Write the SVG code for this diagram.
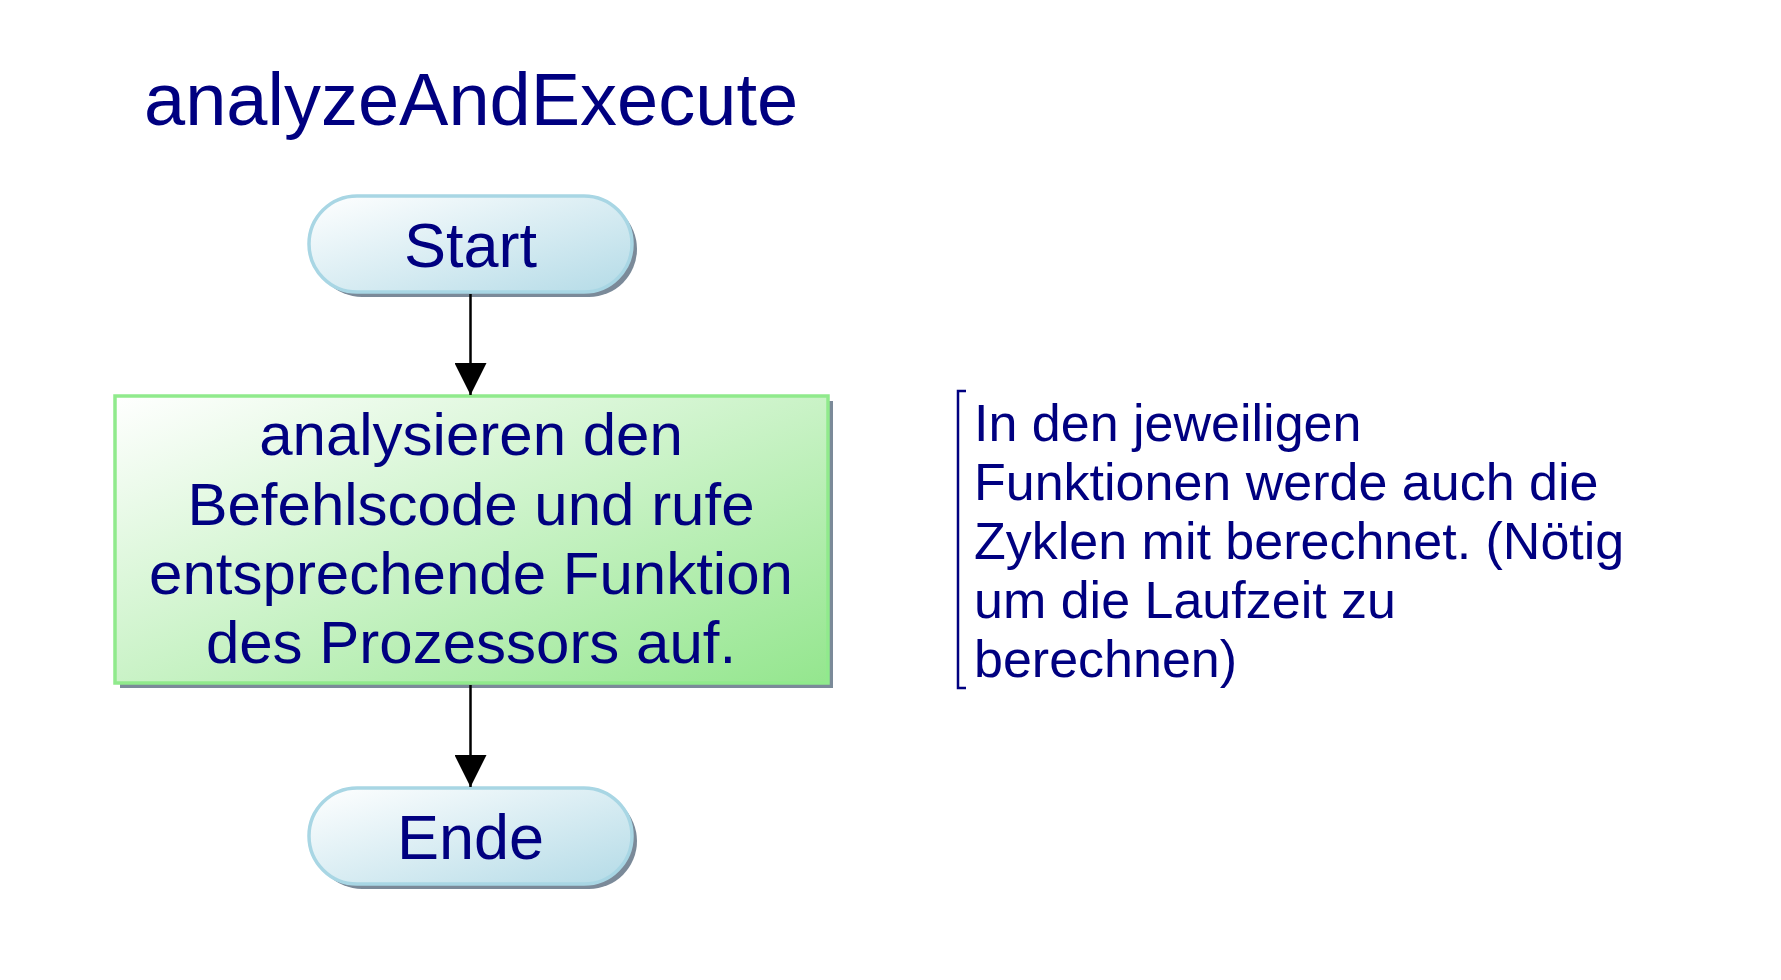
<svg xmlns="http://www.w3.org/2000/svg" width="1781" height="980" viewBox="0 0 1781 980">
<defs>
<linearGradient id="gBlue" x1="0" y1="0" x2="1" y2="1">
<stop offset="0" stop-color="#ffffff"/>
<stop offset="1" stop-color="#b4dbe7"/>
</linearGradient>
<linearGradient id="gGreen" x1="0" y1="0" x2="1" y2="1">
<stop offset="0" stop-color="#ffffff"/>
<stop offset="1" stop-color="#94e68e"/>
</linearGradient>
<marker id="arr" markerWidth="32" markerHeight="32" viewBox="0 0 32 32" refX="32" refY="16" orient="auto" markerUnits="userSpaceOnUse">
<path d="M0,0 L32,16 L0,32 Z" fill="#000"/>
</marker>
<style>
.t{font-family:"Liberation Sans",Arial,sans-serif;fill:#000080}
.c{text-anchor:middle}
.shadow{fill:#7b8a99}
.term{fill:url(#gBlue);stroke:#a8d6e4;stroke-width:3.5}
.proc{fill:url(#gGreen);stroke:#90ea8c;stroke-width:3.5}
.conn{stroke:#000;stroke-width:2.5;fill:none}
</style>
</defs>
<rect width="1781" height="980" fill="#fff"/>
<text class="t" x="144" y="125" font-size="74">analyzeAndExecute</text>
<g id="start">
<rect class="shadow" x="314" y="201" width="323" height="96" rx="48"/>
<rect class="term" x="309" y="196" width="323" height="96" rx="48"/>
<text class="t c" x="470.5" y="267" font-size="63">Start</text>
</g>
<g id="process">
<rect class="shadow" x="120" y="401" width="713" height="287"/>
<rect class="proc" x="115" y="396" width="713" height="287"/>
<g class="t c" font-size="60">
<text x="471" y="455">analysieren den</text>
<text x="471" y="525">Befehlscode und rufe</text>
<text x="471" y="594">entsprechende Funktion</text>
<text x="471" y="663">des Prozessors auf.</text>
</g>
</g>
<g id="ende">
<rect class="shadow" x="314" y="793" width="323" height="96" rx="48"/>
<rect class="term" x="309" y="788" width="323" height="96" rx="48"/>
<text class="t c" x="470.5" y="859" font-size="63">Ende</text>
</g>
<g id="note">
<path d="M966,391 L958,391 L958,688 L966,688" fill="none" stroke="#000080" stroke-width="2.5"/>
<g class="t" font-size="52">
<text x="974" y="441">In den jeweiligen</text>
<text x="974" y="500">Funktionen werde auch die</text>
<text x="974" y="559">Zyklen mit berechnet. (Nötig</text>
<text x="974" y="618">um die Laufzeit zu</text>
<text x="974" y="677">berechnen)</text>
</g>
</g>
<g id="connectors">
<line class="conn" x1="470.5" y1="294" x2="470.5" y2="395" marker-end="url(#arr)"/>
<line class="conn" x1="470.5" y1="685" x2="470.5" y2="787" marker-end="url(#arr)"/>
</g>
</svg>
